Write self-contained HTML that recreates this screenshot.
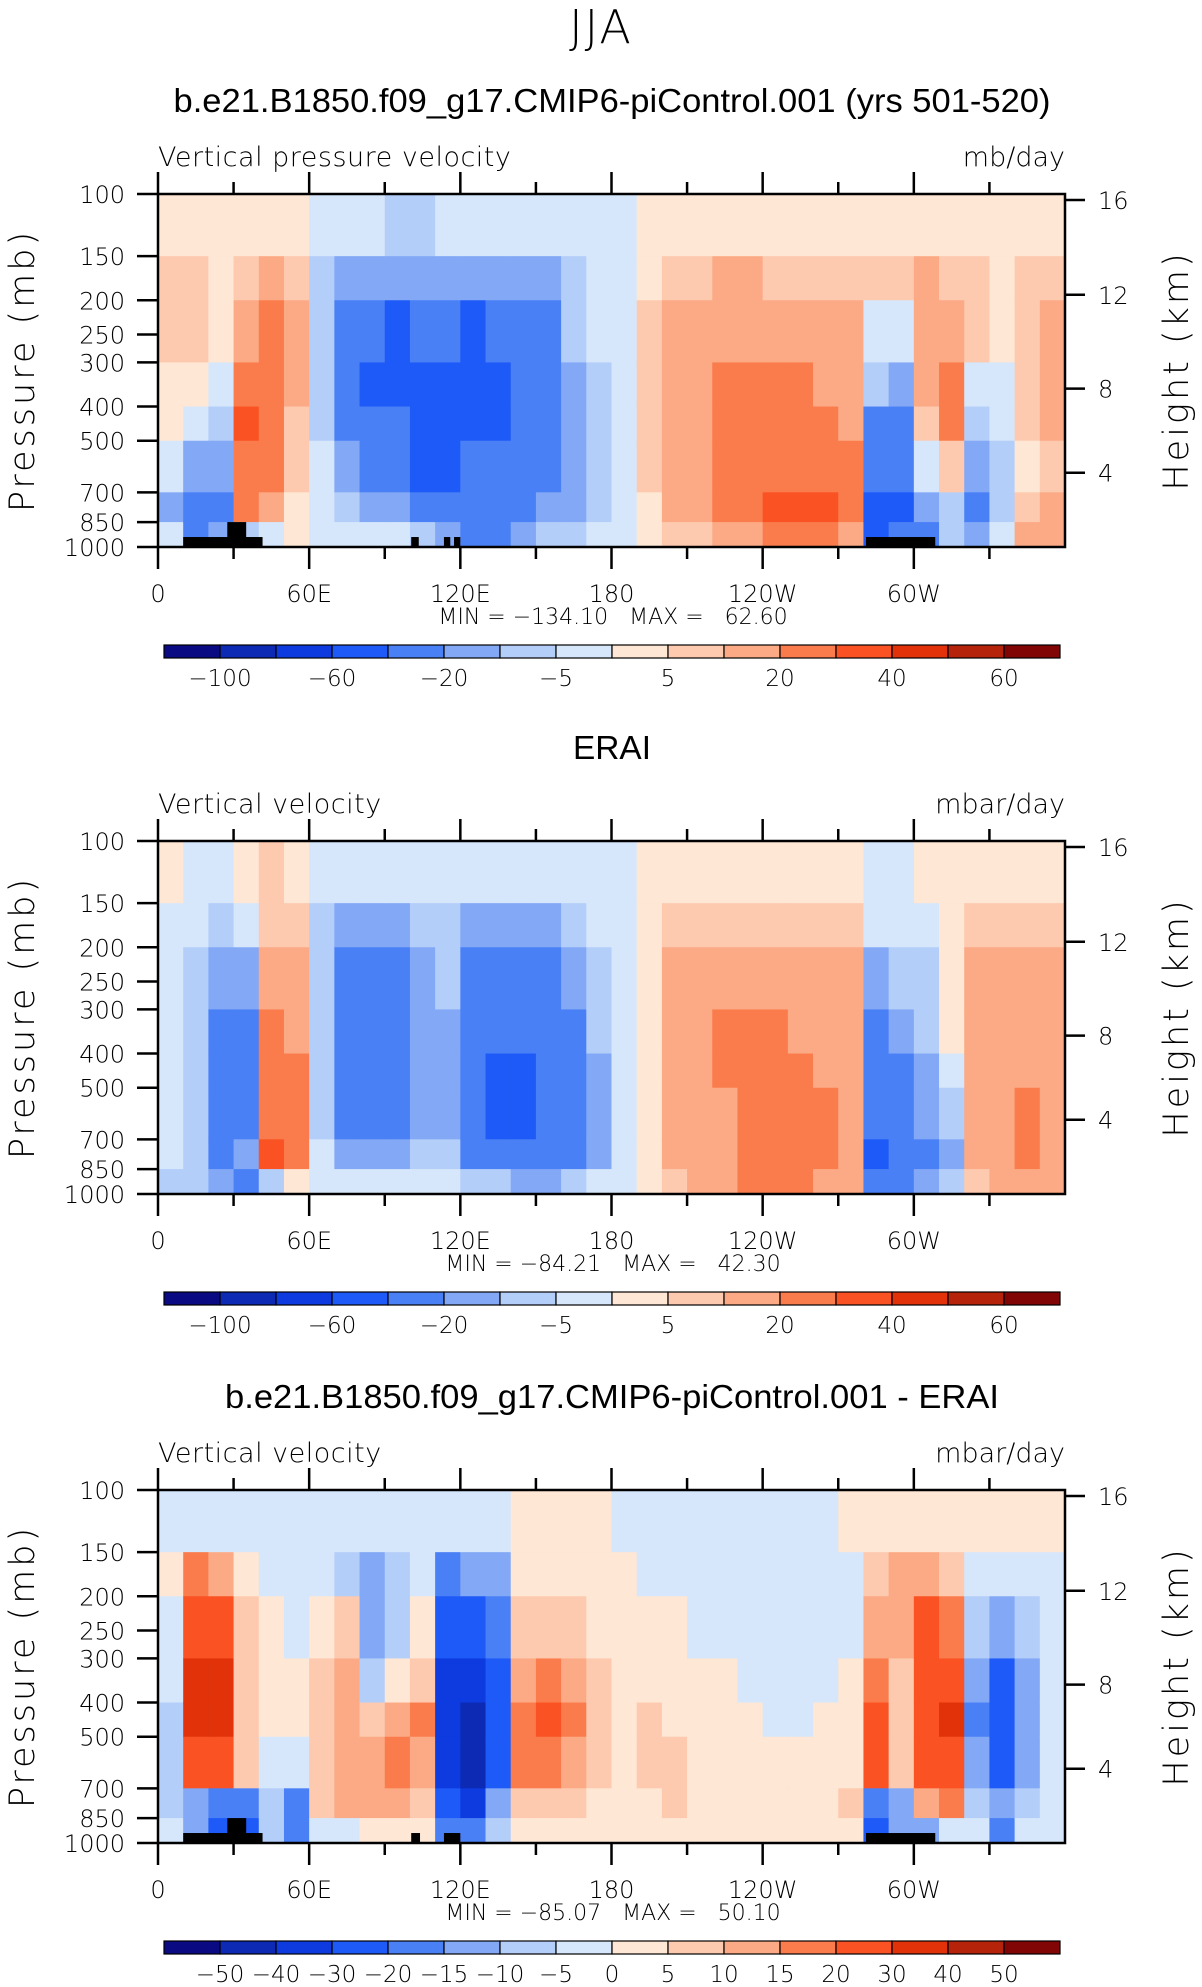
<!DOCTYPE html>
<html><head><meta charset="utf-8"><title>JJA vertical velocity</title>
<style>
html,body{margin:0;padding:0;background:#fff;}
svg{display:block;font-family:"Liberation Sans","DejaVu Sans",sans-serif;}
.pre{white-space:pre;}
</style></head>
<body>
<svg id="fig" width="1202" height="1987" viewBox="0 0 1202 1987" xmlns="http://www.w3.org/2000/svg">
<rect width="1202" height="1987" fill="#fff"/>
<text x="601" y="43" text-anchor="middle" font-size="46" font-weight="300" font-family="DejaVu Sans, sans-serif" letter-spacing="2">JJA</text>
</svg>
<script>
// ---- data ----
const lonCells = [0,10,20,30,40,50,60,70,80,90,100,110,120,130,140,150,160,170,180,190,200,210,220,230,240,250,260,270,280,290,300,310,320,330,340,350];
const pressureEdges = [100,150,200,300,400,500,700,850,1000];
const pressureTicks = [100,150,200,250,300,400,500,700,850,1000];
const heightTickLabels = [4,8,12,16];
const heightTickPressures = [616,356,193,104];
const lonTicks = [0,60,120,180,240,300];
const lonTickLabels = ["0","60E","120E","180","120W","60W"];
const levelsFull = [-100,-80,-60,-40,-20,-10,-5,0,5,10,20,30,40,50,60];
const levelLabelsFull = ["-100","","-60","","-20","","-5","","5","","20","","40","","60"];
const levelsDiff = [-50,-40,-30,-20,-15,-10,-5,0,5,10,15,20,30,40,50];
const levelLabelsDiff = ["-50","-40","-30","-20","-15","-10","-5","0","5","10","15","20","30","40","50"];
const palette = ["#0a0a82","#0d2ab5","#0d3be0","#1e5af7","#4a80f6","#82a8f6","#b4cefa","#d6e7fb","#fee7d4","#fdcab0","#fcaa85","#fa7c4c","#fa5222","#e1320a","#b4230a","#820505"];

// each column: values top (100mb) to bottom (1000mb)
const modelField = [
[2,6,7,4,3,-3,-15,-5],[2,7,6,3,-2,-15,-25,-30],[2,3,2,-3,-8,-20,-30,-20],[3,8,15,25,30,25,20,-10],
[3,10,20,28,28,22,15,-5],[2,8,10,10,8,6,4,2],[-3,-8,-10,-8,-6,-5,-3,-2],[-4,-15,-30,-30,-25,-20,-8,-3],
[-5,-20,-40,-45,-35,-30,-15,-5],[-6,-20,-45,-45,-40,-35,-20,-5],[-6,-20,-40,-50,-45,-45,-30,-10],[-5,-20,-40,-45,-45,-45,-35,-15],
[-5,-20,-45,-45,-45,-40,-40,-25],[-5,-20,-35,-50,-45,-40,-40,-25],[-5,-15,-35,-40,-40,-35,-30,-20],[-4,-12,-25,-30,-30,-30,-20,-10],
[-3,-8,-10,-15,-18,-20,-15,-6],[-2,-4,-5,-6,-8,-10,-8,-3],[-2,-3,-3,-2,-2,-2,-2,-2],[2,4,5,6,6,6,4,2],
[3,8,12,14,14,14,12,6],[3,8,15,18,18,18,16,8],[3,10,15,22,25,25,22,12],[3,10,15,25,28,28,25,15],
[3,8,15,25,28,28,30,20],[3,8,15,20,25,28,35,25],[3,8,15,18,25,28,32,25],[3,6,12,15,18,20,20,12],
[3,5,-3,-10,-25,-35,-60,-50],[3,6,-3,-15,-30,-35,-45,-40],[3,10,15,12,8,-3,-20,-25],[3,8,15,25,20,5,-10,-10],
[3,5,5,-3,-8,-15,-25,-20],[3,4,3,-2,-4,-8,-10,-5],[3,5,8,7,5,4,8,12],[3,6,10,10,10,6,10,12]];
const eraiField = [
[2,-3,-3,-3,-3,-3,-3,-8],[-3,-5,-8,-8,-8,-8,-6,-10],[-3,-10,-20,-30,-30,-30,-25,-20],[3,-5,-15,-25,-25,-25,-20,-30],
[5,8,15,25,28,28,30,-10],[4,6,10,15,20,20,22,2],[-3,-8,-10,-10,-10,-10,-5,-3],[-4,-15,-25,-30,-30,-30,-20,-5],
[-5,-20,-30,-35,-35,-30,-20,-5],[-5,-15,-25,-30,-30,-25,-15,-5],[-4,-10,-15,-18,-20,-15,-10,-3],[-4,-8,-10,-12,-15,-12,-10,-5],
[-5,-15,-25,-30,-30,-30,-25,-10],[-5,-15,-30,-40,-45,-45,-30,-10],[-5,-15,-30,-40,-55,-45,-35,-12],[-5,-15,-25,-35,-40,-40,-35,-15],
[-4,-10,-20,-25,-25,-30,-25,-10],[-3,-5,-8,-10,-12,-15,-12,-5],[-2,-3,-3,-3,-3,-3,-3,-2],[2,3,3,4,4,4,4,2],
[3,5,10,12,12,12,10,5],[3,8,12,18,18,15,15,10],[3,8,15,20,20,18,18,15],[3,8,15,25,25,20,20,20],
[3,8,15,28,25,25,22,20],[3,8,15,18,22,25,25,22],[3,6,12,15,18,22,25,18],[2,5,10,12,12,15,15,10],
[-3,-5,-15,-25,-30,-40,-50,-40],[-3,-5,-10,-20,-25,-30,-30,-25],[2,-3,-8,-10,-15,-20,-25,-15],[3,3,4,4,-3,-8,-12,-8],
[3,5,12,15,15,15,12,5],[3,5,12,15,15,15,15,10],[2,6,12,15,15,20,20,15],[2,6,10,12,12,12,12,10]];
const diffField = [
[-3,3,-3,-5,-8,-8,-10,-5],[-3,15,22,30,30,25,-15,-15],[-3,10,25,35,35,25,-20,-25],[-3,2,5,8,8,5,-20,-30],
[-3,-3,3,3,3,-5,-10,-10],[-3,-5,-3,3,3,-5,-20,-20],[-3,-5,3,8,8,8,6,-3],[-3,-8,8,10,12,10,10,-3],
[-3,-12,-15,-8,5,10,10,3],[-3,-10,-10,3,12,15,10,3],[-3,-5,3,8,15,10,5,3],[-3,-20,-30,-40,-40,-35,-30,-20],
[-3,-15,-30,-40,-50,-45,-35,-20],[-3,-15,-20,-25,-25,-25,-15,-8],[3,4,5,10,15,15,8,3],[3,4,8,15,20,15,8,3],
[3,4,6,12,15,10,5,3],[3,4,4,8,8,6,4,3],[-3,3,4,4,4,4,4,3],[-3,-3,3,4,5,5,4,3],
[-3,-3,3,3,4,5,5,3],[-3,-3,-3,3,3,4,4,3],[-3,-3,-3,3,3,4,4,3],[-3,-3,-3,-3,3,3,4,3],
[-3,-3,-3,-3,-3,3,4,3],[-3,-3,-3,-3,-3,3,4,3],[-3,-3,-3,-3,3,3,4,4],[3,-3,-3,3,3,4,5,4],
[3,8,12,15,20,20,-20,-30],[3,10,12,8,8,8,-15,-15],[3,12,20,25,25,20,10,-15],[3,6,15,25,30,20,15,-5],
[3,-3,-10,-15,-20,-15,-10,-5],[3,-5,-15,-25,-30,-25,-15,-20],[3,-3,-10,-15,-15,-12,-8,-5],[3,-3,-3,-5,-5,-5,-3,-3]];
// topography blocks: [lonStart, lonEnd, topPressure]
const topoModel = [[10,41.5,937],[27.5,35,850],[100.5,103.5,937],[113.5,116,937],[117.5,120,937],[281,308.5,937]];
const topoDiff = [[10,41.5,937],[27.5,35,850],[100.5,104,937],[113.5,120,937],[281,308.5,937]];

const panels = [
 {name:"model",top:194,title:"b.e21.B1850.f09_g17.CMIP6-piControl.001 (yrs 501-520)",titleW:877,left:"Vertical pressure velocity",unit:"mb/day",field:modelField,levels:levelsFull,labels:levelLabelsFull,minmax:"MIN = \u2212134.10   MAX =   62.60",topo:topoModel},
 {name:"erai",top:841,title:"ERAI",titleW:78,left:"Vertical velocity",unit:"mbar/day",field:eraiField,levels:levelsFull,labels:levelLabelsFull,minmax:"MIN = \u221284.21   MAX =   42.30",topo:[]},
 {name:"diff",top:1490,title:"b.e21.B1850.f09_g17.CMIP6-piControl.001 - ERAI",titleW:774,left:"Vertical velocity",unit:"mbar/day",field:diffField,levels:levelsDiff,labels:levelLabelsDiff,minmax:"MIN = \u221285.07   MAX =   50.10",topo:topoDiff}
];

const NS="http://www.w3.org/2000/svg";
const svg=document.getElementById('fig');
const X0=158,X1=1065,PH=353;
function mk(tag,attrs,parent,text){const e=document.createElementNS(NS,tag);for(const k in attrs)e.setAttribute(k,attrs[k]);if(text!==undefined)e.textContent=text;(parent||svg).appendChild(e);return e;}
function xLon(l){return X0+l/360*(X1-X0);}
function colorIdx(v,lv){let i=0;while(i<lv.length&&v>=lv[i])i++;return i;}

panels.forEach(P=>{
  const T=P.top, B=T+PH;
  const yP=p=>T+Math.log10(p/100)*PH;
  const g=mk('g',{});
  
  
  const t=mk('text',{x:612-P.titleW/2,y:T-82,'font-size':33,textLength:P.titleW,lengthAdjust:'spacingAndGlyphs'},g,P.title);
  
  
  const lt=mk('text',{x:X0,y:T-28,'font-size':27,'font-family':'DejaVu Sans, sans-serif','font-weight':'300','letter-spacing':'0.5'},g,P.left);
  
  
  const ut=mk('text',{x:X1,y:T-28,'text-anchor':'end','font-size':27,'font-family':'DejaVu Sans, sans-serif','font-weight':'300'},g,P.unit);
  
  
  // cells
  const cells=mk('g',{},g);
  
  
  P.field.forEach((col,i)=>{
    const x0=xLon(lonCells[i]),x1=xLon(lonCells[i]+10);
    col.forEach((v,j)=>{
      const y0=yP(pressureEdges[j]),y1=yP(pressureEdges[j+1]);
      const r=mk('rect',{x:x0,y:y0,width:x1-x0+0.6,height:y1-y0+0.6,fill:palette[colorIdx(v,P.levels)]},cells);
      
      
    });
  });
  P.topo.forEach(b=>{
    const r=mk('rect',{x:xLon(b[0]),y:yP(b[2]),width:xLon(b[1])-xLon(b[0]),height:B-yP(b[2]),fill:'#000'},g);
    
    
  });
  const fr=mk('rect',{x:X0,y:T,width:X1-X0,height:PH,fill:'none',stroke:'#000','stroke-width':2.5},g);
  
  
  // pressure axis
  pressureTicks.forEach(p=>{
    const y=yP(p);
    mk('line',{x1:137,x2:X0,y1:y,y2:y,stroke:'#000','stroke-width':2.5},g);
    const tl=mk('text',{x:125,y:y+9,'text-anchor':'end','font-size':24,'font-family':'DejaVu Sans, sans-serif','font-weight':'300'},g,String(p));
    
    
  });
  const pl=mk('text',{x:0,y:0,'text-anchor':'middle','font-size':35,'font-family':'DejaVu Sans, sans-serif','font-weight':'300','letter-spacing':'3',transform:`translate(34 ${T+PH/2}) rotate(-90)`},g,"Pressure (mb)");
  
  
  // height axis
  heightTickLabels.forEach((h,k)=>{
    const y=yP(heightTickPressures[k]);
    mk('line',{x1:X1,x2:1085,y1:y,y2:y,stroke:'#000','stroke-width':2.5},g);
    const tl=mk('text',{x:1098,y:y+9,'font-size':24,'font-family':'DejaVu Sans, sans-serif','font-weight':'300'},g,String(h));
    
    
  });
  const hl=mk('text',{x:0,y:0,'text-anchor':'middle','font-size':35,'font-family':'DejaVu Sans, sans-serif','font-weight':'300','letter-spacing':'3',transform:`translate(1188 ${T+PH/2}) rotate(-90)`},g,"Height (km)");
  
  
  // lon ticks
  for(let l=0;l<360;l+=30){
    const x=xLon(l), major=l%60===0;
    mk('line',{x1:x,x2:x,y1:B,y2:B+(major?22:12),stroke:'#000','stroke-width':2.5},g);
    mk('line',{x1:x,x2:x,y1:T,y2:T-(major?22:12),stroke:'#000','stroke-width':2.5},g);
  }
  lonTicks.forEach((l,k)=>{
    const tl=mk('text',{x:xLon(l),y:B+55,'text-anchor':'middle','font-size':24,'font-family':'DejaVu Sans, sans-serif','font-weight':'300'},g,lonTickLabels[k]);
    
    
  });
  const mm=mk('text',{x:613,y:B+77,'text-anchor':'middle','font-size':22,'font-family':'DejaVu Sans, sans-serif','font-weight':'300','class':'pre'},g,P.minmax);
  
  
  // colorbar
  const cb=mk('g',{},g);
  
  
  const cx0=164,cx1=1060,cw=(cx1-cx0)/16,cy=B+98,ch=13;
  palette.forEach((c,i)=>{
    const r=mk('rect',{x:cx0+i*cw,y:cy,width:cw,height:ch,fill:c,stroke:'#000','stroke-width':1.2},cb);
    
    
  });
  P.levels.forEach((lv,i)=>{
    if(!P.labels[i])return;
    const tl=mk('text',{x:cx0+(i+1)*cw,y:cy+41,'text-anchor':'middle','font-size':23,'font-family':'DejaVu Sans, sans-serif','font-weight':'300'},cb,P.labels[i].replace('-','\u2212'));
    
    
  });
});
</script>
</body></html>
